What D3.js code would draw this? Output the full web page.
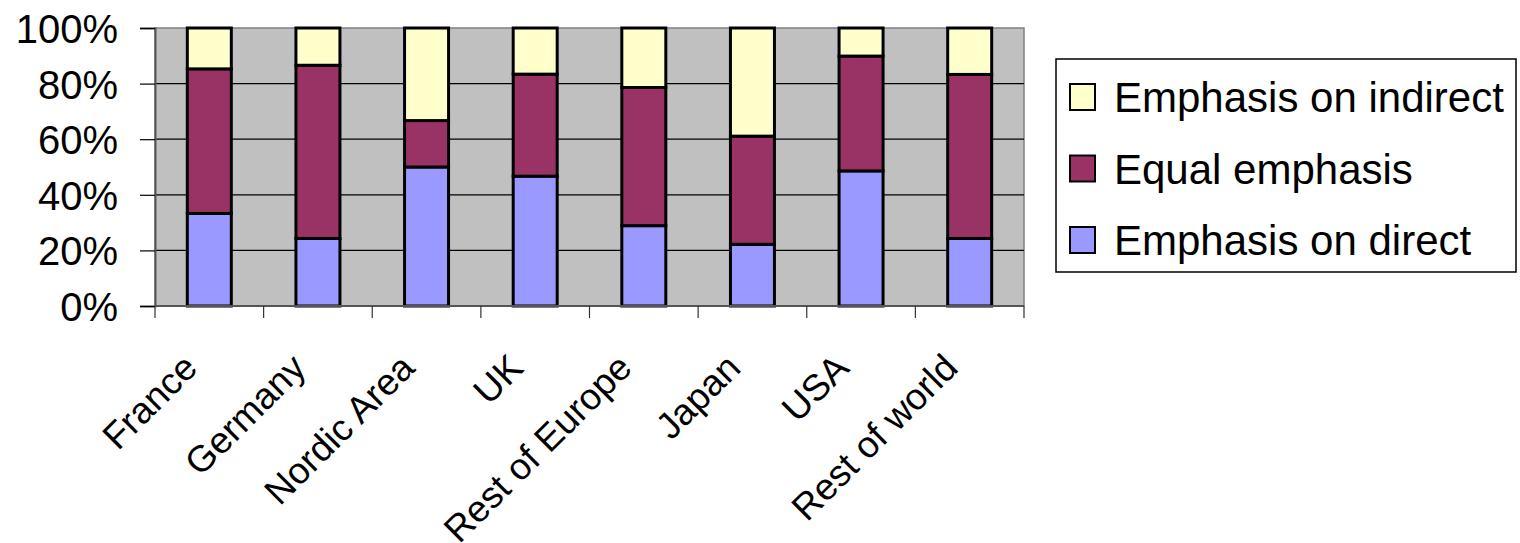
<!DOCTYPE html>
<html>
<head>
<meta charset="utf-8">
<script src="https://cdn.jsdelivr.net/npm/d3@7"></script>
<style>
  html, body { margin: 0; padding: 0; background: #ffffff; }
  svg { display: block; font-family: "Liberation Sans", Arial, sans-serif; }
</style>
</head>
<body>
<svg id="chart" width="1520" height="543"></svg>
<script>
// Regions surveyed
const categories = ["France", "Germany", "Nordic Area", "UK", "Rest of Europe", "Japan", "USA", "Rest of world"];

// Share of respondents (%) per emphasis
const emphasisDirect   = [33.3, 24.3, 50.0, 46.7, 28.9, 22.2, 48.6, 24.3];
const equalEmphasis    = [52.0, 62.3, 16.7, 36.7, 49.7, 38.9, 41.3, 59.0];
const emphasisIndirect = [14.7, 13.4, 33.3, 16.6, 21.4, 38.9, 10.1, 16.7];

const seriesNames  = ["Emphasis on direct", "Equal emphasis", "Emphasis on indirect"];
const seriesColors = ["#9999ff", "#993366", "#ffffcc"];
const yTicks = [0, 20, 40, 60, 80, 100];

const svg = d3.select("#chart");
const plot = { left: 155, right: 1024, top: 28, bottom: 306 };

const x = d3.scaleBand().domain(categories).range([plot.left, plot.right]).paddingInner(0.595).paddingOuter(0.2975);
const xOuter = d3.scaleBand().domain(categories).range([plot.left, plot.right]);
const y = d3.scaleLinear().domain([0, 100]).range([plot.bottom, plot.top]);

// Plot background
svg.append("rect")
  .attr("x", plot.left).attr("y", plot.top)
  .attr("width", plot.right - plot.left).attr("height", plot.bottom - plot.top)
  .attr("fill", "#c0c0c0")
  .attr("stroke", "#808080").attr("stroke-width", 1.5);

// Horizontal gridlines
svg.append("g").selectAll("line")
  .data(yTicks.filter(d => d > 0 && d < 100))
  .join("line")
  .attr("x1", plot.left).attr("x2", plot.right)
  .attr("y1", d => y(d)).attr("y2", d => y(d))
  .attr("stroke", "#000").attr("stroke-width", 1.2);

// Stacked data
const rows = categories.map((c, i) => ({
  category: c,
  [seriesNames[0]]: emphasisDirect[i],
  [seriesNames[1]]: equalEmphasis[i],
  [seriesNames[2]]: emphasisIndirect[i]
}));
const stacked = d3.stack().keys(seriesNames)(rows);

svg.append("g").selectAll("g")
  .data(stacked)
  .join("g")
  .attr("fill", (d, i) => seriesColors[i])
  .selectAll("rect")
  .data(d => d)
  .join("rect")
  .attr("x", d => x(d.data.category))
  .attr("width", x.bandwidth())
  .attr("y", d => y(d[1]))
  .attr("height", d => y(d[0]) - y(d[1]))
  .attr("stroke", "#000")
  .attr("stroke-width", 3);

// Y axis
const yAxis = svg.append("g")
  .attr("transform", `translate(${plot.left},0)`)
  .call(d3.axisLeft(y).tickValues(yTicks).tickFormat(d => d + "%").tickSize(15).tickPadding(22));
yAxis.select(".domain").attr("stroke", "#555").attr("stroke-width", 2);
yAxis.selectAll(".tick line").attr("stroke", "#000").attr("stroke-width", 1.2);
yAxis.selectAll(".tick text")
  .attr("font-size", 40).attr("fill", "#000")
  .attr("font-family", "'Liberation Sans', Arial, sans-serif")
  .attr("dy", "0.36em");

// X axis: ticks at category boundaries
const xAxisG = svg.append("g");
const boundaries = categories.map(c => xOuter(c)).concat([plot.right]);
xAxisG.append("line")
  .attr("x1", plot.left).attr("x2", plot.right)
  .attr("y1", plot.bottom).attr("y2", plot.bottom)
  .attr("stroke", "#555").attr("stroke-width", 2);
xAxisG.selectAll(".tk")
  .data(boundaries)
  .join("line")
  .attr("class", "tk")
  .attr("x1", d => d).attr("x2", d => d)
  .attr("y1", plot.bottom).attr("y2", plot.bottom + 12)
  .attr("stroke", "#333").attr("stroke-width", 1.2);

xAxisG.selectAll("text")
  .data(categories)
  .join("text")
  .attr("transform", d => `translate(${xOuter(d) + xOuter.bandwidth() / 2 - 10},${plot.bottom + 64}) rotate(-45)`)
  .attr("text-anchor", "end")
  .attr("font-size", 37)
  .attr("fill", "#000")
  .text(d => d);

// Legend
const legend = svg.append("g");
legend.append("rect")
  .attr("x", 1056).attr("y", 59)
  .attr("width", 460).attr("height", 213)
  .attr("fill", "#fff").attr("stroke", "#000").attr("stroke-width", 1.5);

const legendOrder = [2, 1, 0];
const legendRows = legend.selectAll(".item")
  .data(legendOrder)
  .join("g")
  .attr("class", "item")
  .attr("transform", (d, i) => `translate(1069,${97 + i * 71.5})`);
legendRows.append("rect")
  .attr("x", 1).attr("y", -13)
  .attr("width", 25).attr("height", 26)
  .attr("fill", d => seriesColors[d])
  .attr("stroke", "#000").attr("stroke-width", 2);
legendRows.append("text")
  .attr("x", 45).attr("y", 15)
  .attr("font-size", 42)
  .attr("fill", "#000")
  .text(d => seriesNames[d]);
</script>
</body>
</html>
